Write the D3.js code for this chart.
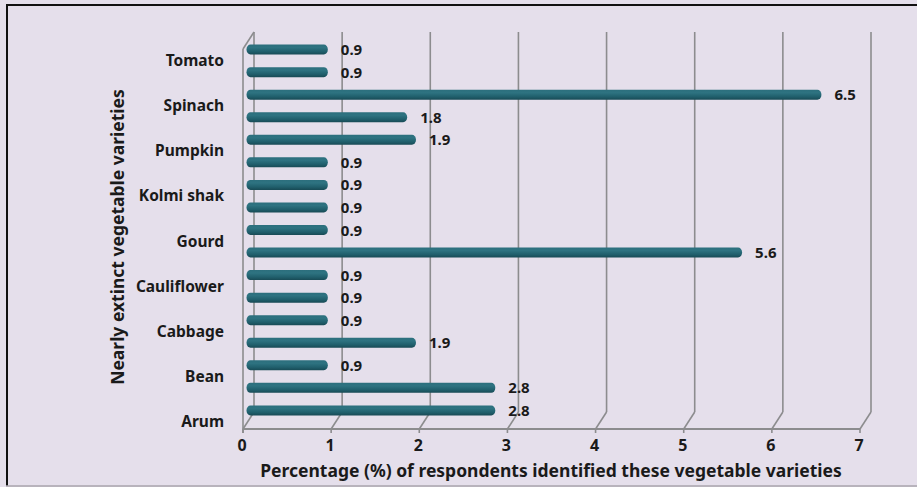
<!DOCTYPE html>
<html><head><meta charset="utf-8">
<script src="https://cdn.jsdelivr.net/npm/d3@7"></script>
<style>
html,body{margin:0;padding:0;background:#E5DFEB;}
svg{display:block;font-family:"Noto Sans","Open Sans",sans-serif;}
</style></head>
<body><svg id="c" width="917" height="487"></svg>
<script>
// Data (top to bottom). Only every other category is labelled in the original chart.
const categories = ["Tomato","","Spinach","","Pumpkin","","Kolmi shak","","Gourd","","Cauliflower","","Cabbage","","Bean","","Arum"];
const values = [0.9,0.9,6.5,1.8,1.9,0.9,0.9,0.9,0.9,5.6,0.9,0.9,0.9,1.9,0.9,2.8,2.8];
const xTicks = [0,1,2,3,4,5,6,7];
const xTitle = "Percentage (%) of respondents identified these vegetable varieties";
const yTitle = "Nearly extinct vegetable varieties";

const svg = d3.select("#c");
const W = 917, H = 487;
svg.append("rect").attr("width",W).attr("height",H).attr("fill","#E5DFEB");
// frame
svg.append("line").attr("x1",6).attr("x2",W).attr("y1",5).attr("y2",5).attr("stroke","#111").attr("stroke-width",2);
svg.append("line").attr("x1",7).attr("x2",7).attr("y1",4).attr("y2",486).attr("stroke","#111").attr("stroke-width",2);
svg.append("line").attr("x1",6).attr("x2",W).attr("y1",486).attr("y2",486).attr("stroke","#A8A4AC").attr("stroke-width",1.5);

// 3D geometry
const depthDx = 11, depthDy = -17;
const frontY0 = 429, frontTop = 49;
const x = d3.scaleLinear().domain([0,7]).range([243, 860]);
const idx = d3.range(values.length);
const y = d3.scaleBand().domain(idx).range([40, 420]).paddingInner(0.55).paddingOuter(0.2);

const g = svg.append("g");
const grid = "#8C8C8E";
// back gridlines + floor slants
xTicks.forEach(t => {
  const xf = x(t), xb = x(t) + depthDx;
  if (t > 0) {
    g.append("line").attr("x1",xb).attr("x2",xb).attr("y1",frontTop+depthDy).attr("y2",frontY0+depthDy)
      .attr("stroke",grid).attr("stroke-width",1.6);
  }
  g.append("line").attr("x1",xb).attr("x2",xf).attr("y1",frontY0+depthDy).attr("y2",frontY0)
    .attr("stroke",grid).attr("stroke-width",1.6);
  g.append("line").attr("x1",xf).attr("x2",xf).attr("y1",frontY0).attr("y2",frontY0+4)
    .attr("stroke",grid).attr("stroke-width",1.6);
});
// left wall
const x0b = x(0) + depthDx;
g.append("line").attr("x1",x0b).attr("x2",x0b).attr("y1",frontTop+depthDy).attr("y2",frontY0+depthDy).attr("stroke",grid).attr("stroke-width",1.6);
g.append("line").attr("x1",x(0)).attr("x2",x(0)).attr("y1",frontTop).attr("y2",frontY0+4).attr("stroke",grid).attr("stroke-width",1.6);
g.append("line").attr("x1",x(0)).attr("x2",x0b).attr("y1",frontTop).attr("y2",frontTop+depthDy).attr("stroke",grid).attr("stroke-width",1.6);
// front axis
g.append("line").attr("x1",x(0)).attr("x2",x(7)).attr("y1",frontY0).attr("y2",frontY0).attr("stroke",grid).attr("stroke-width",1.8);

// bar gradient
const defs = svg.append("defs");
const grad = defs.append("linearGradient").attr("id","cyl").attr("x1",0).attr("x2",0).attr("y1",0).attr("y2",1);
grad.append("stop").attr("offset","0%").attr("stop-color","#2C6F7D");
grad.append("stop").attr("offset","30%").attr("stop-color","#2E7381");
grad.append("stop").attr("offset","70%").attr("stop-color","#205F6C");
grad.append("stop").attr("offset","100%").attr("stop-color","#184A55");

const midDx = depthDx/2;
const bh = 10;
const bars = g.selectAll("g.bar").data(idx).enter().append("g").attr("class","bar");
bars.append("rect")
  .attr("x", d => x(0) + midDx - 2)
  .attr("y", d => y(d) + y.bandwidth()/2 - bh/2)
  .attr("width", d => x(values[d]) - x(0) + 2)
  .attr("height", bh)
  .attr("rx", 4).attr("ry", 5)
  .attr("fill","url(#cyl)");

// value labels
g.selectAll("text.val").data(idx).enter().append("text")
  .attr("x", d => x(values[d]) + midDx + 13)
  .attr("y", d => y(d) + y.bandwidth()/2 + 5.5)
  .attr("font-size", 15).attr("font-weight","bold").attr("fill","#1a1a1a")
  .text(d => values[d].toFixed(1));

// category labels
g.selectAll("text.cat").data(idx.filter(d => categories[d] !== "")).enter().append("text")
  .attr("x", 224)
  .attr("y", d => y(d) + y.bandwidth()/2 + 16.5)
  .attr("text-anchor","end")
  .attr("font-size", 15.5).attr("font-weight","bold").attr("fill","#1a1a1a")
  .text(d => categories[d]);

// x tick labels
g.selectAll("text.tick").data(xTicks).enter().append("text")
  .attr("x", t => x(t) - 1)
  .attr("y", 451)
  .attr("text-anchor","middle")
  .attr("font-size", 16).attr("font-weight","bold").attr("fill","#1a1a1a")
  .text(t => t);

// axis titles
svg.append("text").attr("x", 551).attr("y", 477).attr("text-anchor","middle")
  .attr("font-size", 17.5).attr("font-weight","bold").attr("fill","#1a1a1a").text(xTitle);
svg.append("text").attr("transform","translate(124,237) rotate(-90)").attr("text-anchor","middle")
  .attr("font-size", 17.5).attr("font-weight","bold").attr("fill","#1a1a1a").text(yTitle);
</script>
</body></html>
